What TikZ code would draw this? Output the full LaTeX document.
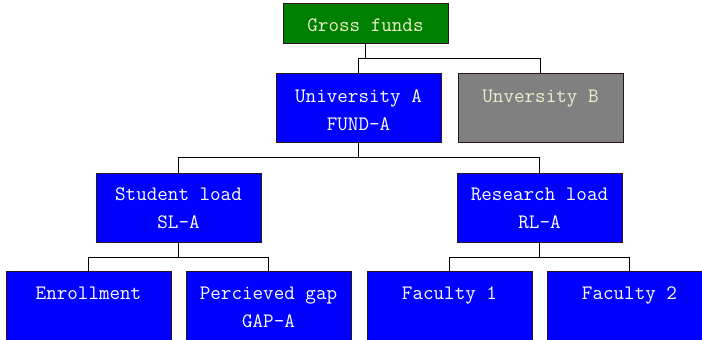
\documentclass[tikz,border=0pt]{standalone}
\usepackage{fontspec}
\usetikzlibrary{calc}
\definecolor{gfgreen}{RGB}{0,128,0}
\definecolor{ublue}{RGB}{0,0,255}
\definecolor{ugray}{RGB}{128,128,128}
\definecolor{cream}{RGB}{238,238,204}
\definecolor{edge}{RGB}{40,20,30}
\tikzset{
  box/.style={draw=edge, line width=0.9pt, anchor=north west, minimum width=165pt, inner sep=0pt, outer sep=0pt},
  bluebox/.style={box, fill=ublue, minimum height=69pt},
  txt/.style={font=\ttfamily\fontsize{20.5}{24}\selectfont, inner sep=0pt, anchor=center, text height=11pt, text depth=0pt},
  conn/.style={draw=black, line width=0.8pt},
}
\begin{document}
\begin{tikzpicture}[x=1pt,y=-1pt]
\useasboundingbox (0,0) rectangle (702,340);
\clip (0,0) rectangle (702,340);
% boxes
\node[box, fill=gfgreen, minimum height=40pt] (gf) at (283,3) {};
\node[bluebox] (ua) at (276,73) {};
\node[box, fill=ugray, minimum height=69pt] (ub) at (458,73) {};
\node[bluebox] (sl) at (96,173) {};
\node[bluebox] (rl) at (457,173) {};
\node[bluebox] (en) at (6,271) {};
\node[bluebox] (pg) at (186,271) {};
\node[bluebox] (f1) at (367,271) {};
\node[bluebox] (f2) at (547,271) {};
% texts
\node[txt, text=cream] (gft) at ($(gf.north)+(0,23)$) {Gross funds};
\node[txt, text=white] (uat1) at ($(ua.north)+(0,24)$) {University A};
\node[txt, text=white] (uat2) at ($(ua.north)+(0,52)$) {FUND-A};
\node[txt, text=cream] (ubt) at ($(ub.north)+(0,24)$) {Unversity B};
\node[txt, text=white] (slt1) at ($(sl.north)+(0,22)$) {Student load};
\node[txt, text=white] (slt2) at ($(sl.north)+(0,50)$) {SL-A};
\node[txt, text=white] (rlt1) at ($(rl.north)+(0,22)$) {Research load};
\node[txt, text=white] (rlt2) at ($(rl.north)+(0,50)$) {RL-A};
\node[txt, text=white] (ent) at ($(en.north)+(0,23)$) {Enrollment};
\node[txt, text=white] (pgt1) at ($(pg.north)+(0,23)$) {Percieved gap};
\node[txt, text=white] (pgt2) at ($(pg.north)+(0,51)$) {GAP-A};
\node[txt, text=white] (f1t) at ($(f1.north)+(0,23)$) {Faculty 1};
\node[txt, text=white] (f2t) at ($(f2.north)+(0,23)$) {Faculty 2};
% connectors
\draw[conn] (gf.south) -- ++(0,15) -| (ua.north);
\draw[conn] (gf.south) -- ++(0,15) -| (ub.north);
\draw[conn] (ua.south) -- ++(0,15) -| (sl.north);
\draw[conn] (ua.south) -- ++(0,15) -| (rl.north);
\draw[conn] (sl.south) -- ++(0,15.5) -| (en.north);
\draw[conn] (sl.south) -- ++(0,15.5) -| (pg.north);
\draw[conn] (rl.south) -- ++(0,15.5) -| (f1.north);
\draw[conn] (rl.south) -- ++(0,15.5) -| (f2.north);
\end{tikzpicture}
\end{document}
